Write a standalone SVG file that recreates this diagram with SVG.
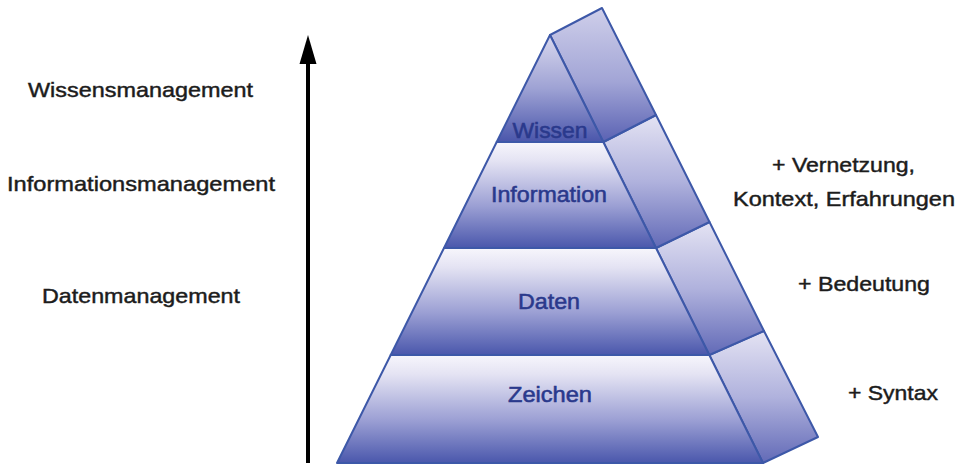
<svg xmlns="http://www.w3.org/2000/svg" width="963" height="466" viewBox="0 0 963 466">
  <defs>
    <linearGradient id="gFront" x1="0" y1="0" x2="0" y2="1">
      <stop offset="0" stop-color="#f7f6fc"/>
      <stop offset="0.18" stop-color="#e4e3f3"/>
      <stop offset="0.6" stop-color="#9ca0d4"/>
      <stop offset="1" stop-color="#4a57ac"/>
    </linearGradient>
    <linearGradient id="gSide" x1="0" y1="0" x2="0" y2="1">
      <stop offset="0" stop-color="#e4e3f3"/>
      <stop offset="0.5" stop-color="#b0b2dd"/>
      <stop offset="1" stop-color="#626ab7"/>
    </linearGradient>
    <linearGradient id="gTop" x1="0" y1="0" x2="0" y2="1">
      <stop offset="0" stop-color="#d9d8ee"/>
      <stop offset="0.5" stop-color="#9ea2d4"/>
      <stop offset="1" stop-color="#4a56ab"/>
    </linearGradient>
    <linearGradient id="gTopSide" x1="0" y1="0" x2="0" y2="1">
      <stop offset="0" stop-color="#cfcfea"/>
      <stop offset="0.55" stop-color="#a2a5d6"/>
      <stop offset="1" stop-color="#5a62b3"/>
    </linearGradient>
  </defs>
  <style>
    .face { stroke: #3d58a8; stroke-width: 2; stroke-linejoin: round; }
    .lvl { font-family: "Liberation Sans", Arial, sans-serif; font-size: 22px; fill: #2a398c; stroke: #2a398c; stroke-width: 0.55; text-anchor: middle; }
    .lbl { font-family: "Liberation Sans", Arial, sans-serif; font-size: 21px; fill: #1c1c1c; stroke: #1c1c1c; stroke-width: 0.45; text-anchor: middle; }
  </style>

  <rect width="963" height="466" fill="#ffffff"/>

  <!-- vertical axis arrow -->
  <g id="axis">
    <line x1="308" y1="463" x2="308" y2="60" stroke="#000" stroke-width="4"/>
    <polygon points="308,35 316.5,64 299.5,64" fill="#000"/>
  </g>

  <!-- left-hand labels -->
  <g id="labels-left">
    <text class="lbl" x="140.5" y="97" textLength="225" lengthAdjust="spacingAndGlyphs">Wissensmanagement</text>
    <text class="lbl" x="141" y="191" textLength="268" lengthAdjust="spacingAndGlyphs">Informationsmanagement</text>
    <text class="lbl" x="141" y="303" textLength="198" lengthAdjust="spacingAndGlyphs">Datenmanagement</text>
  </g>

  <!-- pyramid layers (bottom to top) -->
  <g id="layer-zeichen">
    <polygon class="face" fill="url(#gSide)" points="709.3,355 764,331 818,437 763,463"/>
    <polygon class="face" fill="url(#gFront)" points="390.7,355 709.3,355 763,463 337,463"/>
    <text class="lvl" x="550" y="402" textLength="84" lengthAdjust="spacingAndGlyphs">Zeichen</text>
  </g>
  <g id="layer-daten">
    <polygon class="face" fill="url(#gSide)" points="656,248 709.5,222 764,331 709.3,355"/>
    <polygon class="face" fill="url(#gFront)" points="444,248 656,248 709.3,355 390.7,355"/>
    <text class="lvl" x="549" y="309" textLength="62" lengthAdjust="spacingAndGlyphs">Daten</text>
  </g>
  <g id="layer-information">
    <polygon class="face" fill="url(#gSide)" points="603.3,142 656,115 709.5,222 656,248"/>
    <polygon class="face" fill="url(#gFront)" points="496.7,142 603.3,142 656,248 444,248"/>
    <text class="lvl" x="549" y="202" textLength="116" lengthAdjust="spacingAndGlyphs">Information</text>
  </g>
  <g id="layer-wissen">
    <polygon class="face" fill="url(#gTopSide)" points="550,35 602,8 656,115 603.3,142"/>
    <polygon class="face" fill="url(#gTop)" points="550,35 603.3,142 496.7,142"/>
    <text class="lvl" x="550" y="138" textLength="75" lengthAdjust="spacingAndGlyphs">Wissen</text>
  </g>

  <!-- right-hand labels -->
  <g id="labels-right">
    <text class="lbl" x="843.5" y="172" textLength="143" lengthAdjust="spacingAndGlyphs">+ Vernetzung,</text>
    <text class="lbl" x="844" y="206" textLength="222" lengthAdjust="spacingAndGlyphs">Kontext, Erfahrungen</text>
    <text class="lbl" x="864" y="291" textLength="132" lengthAdjust="spacingAndGlyphs">+ Bedeutung</text>
    <text class="lbl" x="893" y="400" textLength="90" lengthAdjust="spacingAndGlyphs">+ Syntax</text>
  </g>
</svg>
